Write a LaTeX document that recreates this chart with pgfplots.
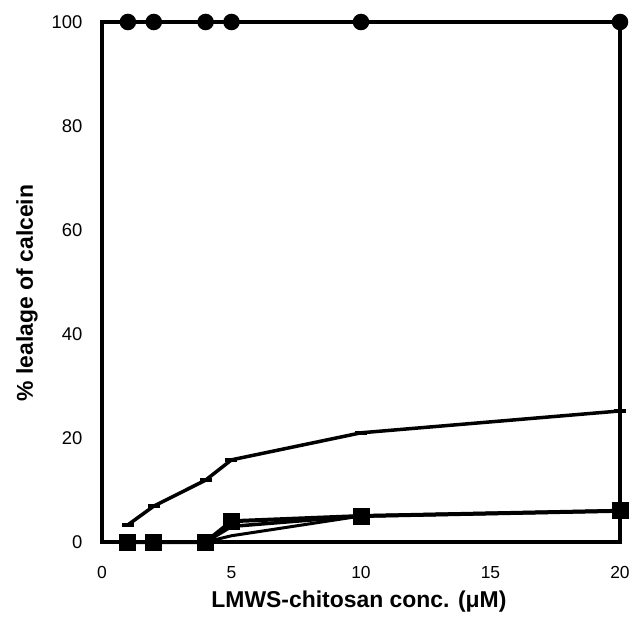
\documentclass[border=0pt]{standalone}
\usepackage{fontspec}
\setmainfont{Liberation Sans}
\usepackage{pgfplots}
\pgfplotsset{compat=1.18}
\begin{document}
\begin{tikzpicture}
\begin{axis}[
    scale only axis,
    width=518bp,
    height=520bp,
    xmin=0, xmax=20,
    ymin=0, ymax=100,
    xtick={0,5,10,15,20},
    ytick={0,20,40,60,80,100},
    tick style={draw=none},
    axis line style={line width=3.5bp},
    /pgf/number format/assume math mode=true,
    ticklabel style={font=\fontsize{17.5}{19}\selectfont},
    xticklabel style={yshift=-21bp},
    yticklabel style={xshift=-16bp,font=\fontsize{18.5}{20}\selectfont},
    xlabel={\textbf{LMWS-chitosan conc. (μM)}},
    ylabel={\textbf{\% lealage of calcein}},
    label style={font=\fontsize{23}{25}\selectfont},
    xlabel style={at={(axis description cs:0.496,-0.115)}, anchor=center},
    ylabel style={at={(axis description cs:-0.1448,0.479)}, anchor=center},
    clip=false,
]
% 100% series, circles
\addplot[black, line width=3.5bp, mark=*, mark size=6.5bp] coordinates {
    (1,100) (2,100) (4,100) (5,100) (10,100) (20,100)
};
% dash-marked series
\addplot[black, line width=3.5bp, mark=-, mark size=6bp, mark options={line width=3.5bp}] coordinates {
    (1,3.3) (2,6.9) (4,11.9) (5,15.8) (10,21) (20,25.2)
};
% squares
\addplot[black, line width=4bp, mark=square*, mark size=6.5bp] coordinates {
    (1,0) (2,0) (4,0) (5,4) (10,5) (20,6)
};
\addplot[black, line width=3.5bp] coordinates {
    (4,0) (5,3) (10,5) (20,6)
};
\addplot[black, line width=3bp] coordinates {
    (4,0) (5,1.2) (10,5) (20,6)
};
\end{axis}
\pgfresetboundingbox
\path[use as bounding box] ([shift={(-102bp,-82bp)}]current axis.south west) rectangle ([shift={(14bp,22bp)}]current axis.north east);
\end{tikzpicture}
\end{document}
